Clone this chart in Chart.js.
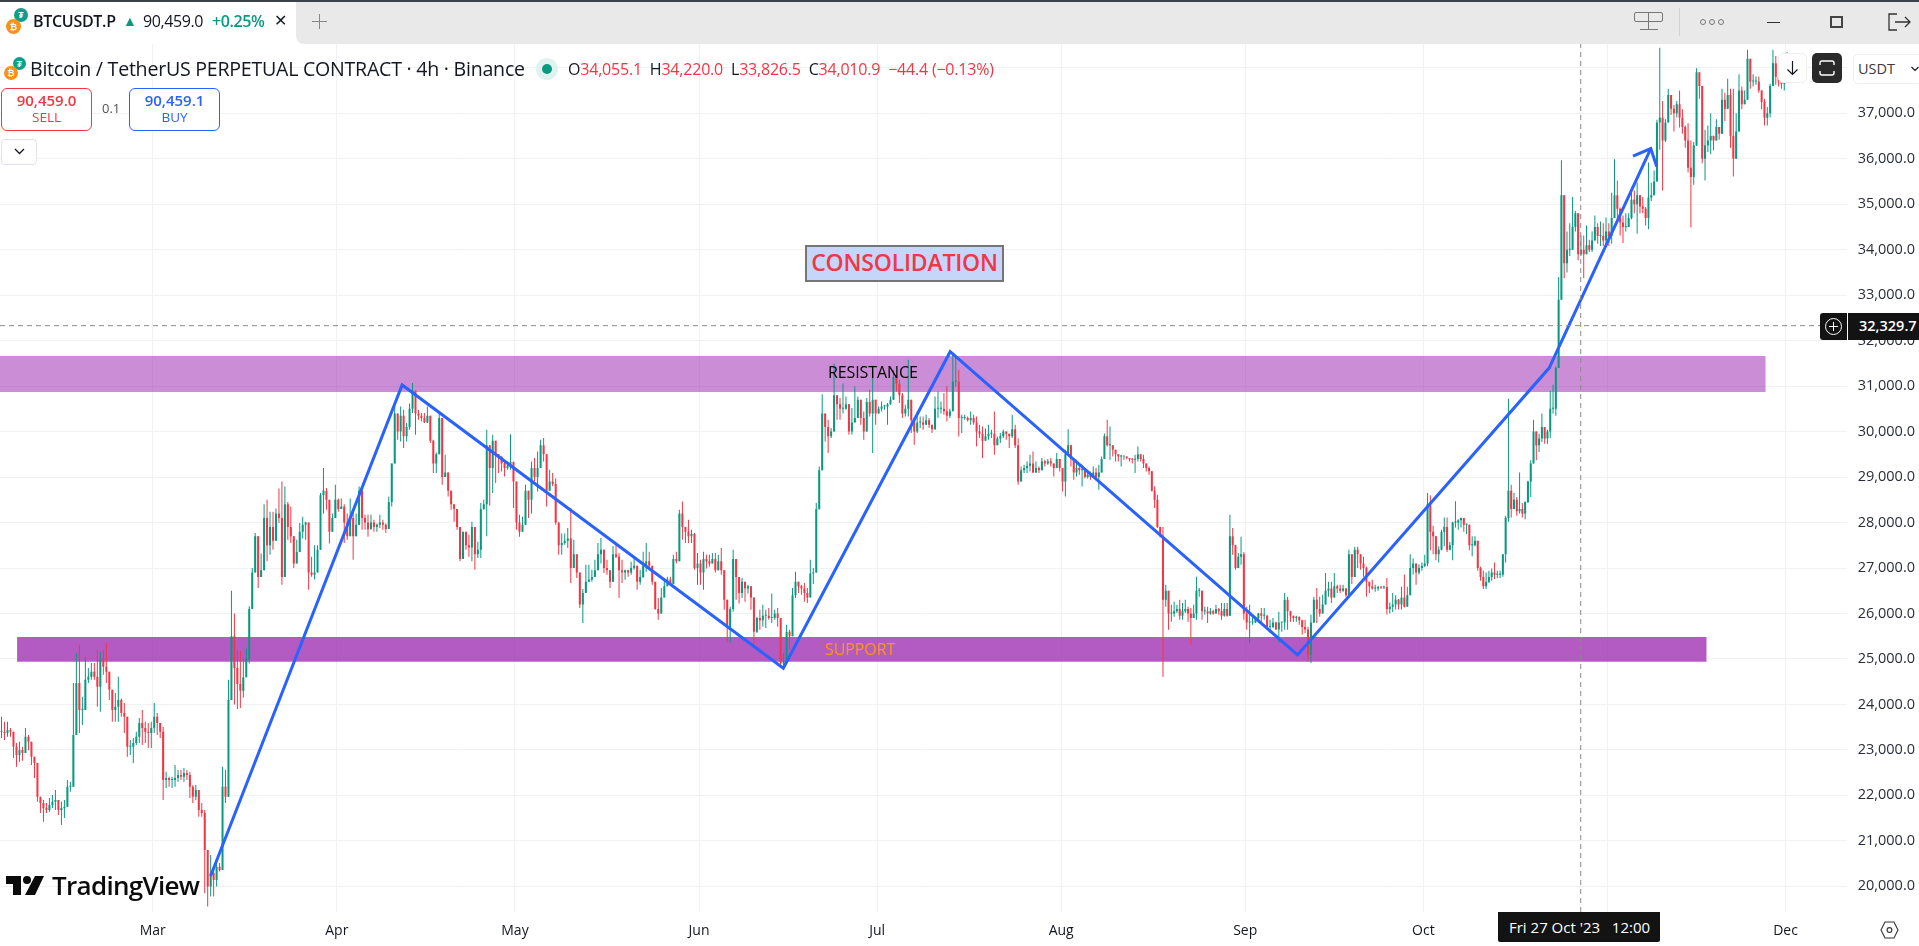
<!DOCTYPE html>
<html>
<head>
<meta charset="utf-8">
<title>BTCUSDT.P 4h</title>
<script src="https://cdn.jsdelivr.net/npm/chart.js@4"></script>
<style>
  html, body { margin: 0; padding: 0; background: #fff; overflow: hidden; }
  body { width: 1919px; height: 946px; position: relative; font-family: "Open Sans", sans-serif; color: #131722; }
  canvas { position: absolute; left: 0; top: 0; }
  .o { position: absolute; white-space: nowrap; line-height: 1; }
  .box { position: absolute; box-sizing: border-box; }
  .red { color: #f23645; }
  .green { color: #089981; }
  .coin { position: absolute; border-radius: 50%; color: #fff; font-size: 9px; font-weight: 700; text-align: center; }
</style>
</head>
<body>
<canvas id="chart" width="1919" height="946"></canvas>

<!-- tab bar -->
<div class="box" style="left:0;top:0;width:1919px;height:2px;background:#3c4048;z-index:2"></div>
<div class="box" style="left:296px;top:2px;width:1623px;height:42px;background:#e9e9e9;border-bottom-left-radius:8px"></div>
<div class="coin" style="left:14px;top:8px;width:14px;height:14px;background:#0e9e8a;line-height:14px">₮</div>
<div class="coin" style="left:6px;top:19px;width:15px;height:15px;background:#f7931a;line-height:15px">₿</div>
<div class="o" style="left:33px;top:13px;font-size:16px;font-weight:600;letter-spacing:-.3px">BTCUSDT.P</div>
<div class="o green" style="left:123px;top:14px;font-size:14px">▲</div>
<div class="o" style="left:143px;top:13px;font-size:16px;letter-spacing:-.4px">90,459.0</div>
<div class="o green" style="left:212px;top:13px;font-size:16px;font-weight:600;letter-spacing:-.4px">+0.25%</div>
<div class="o" style="left:274px;top:12px;font-size:16px">✕</div>
<div class="box" style="left:312px;top:21px;width:15px;height:1px;background:#888"></div>
<div class="box" style="left:319px;top:14px;width:1px;height:15px;background:#888"></div>

<!-- window controls -->
<div class="box" style="left:1634px;top:12px;width:29px;height:10px;border:1px solid #777;border-radius:2px"></div>
<div class="box" style="left:1648px;top:12px;width:1px;height:18px;background:#777"></div>
<div class="box" style="left:1640px;top:29px;width:18px;height:1px;background:#777"></div>
<div class="box" style="left:1679px;top:8px;width:1px;height:28px;background:#d2d2d2"></div>
<div class="box" style="left:1700px;top:19px;width:6px;height:6px;border:1px solid #777;border-radius:50%"></div>
<div class="box" style="left:1709px;top:19px;width:6px;height:6px;border:1px solid #777;border-radius:50%"></div>
<div class="box" style="left:1718px;top:19px;width:6px;height:6px;border:1px solid #777;border-radius:50%"></div>
<div class="box" style="left:1767px;top:22px;width:13px;height:1px;background:#333"></div>
<div class="box" style="left:1830px;top:16px;width:13px;height:12px;border:2px solid #444"></div>
<svg class="box" style="left:1887px;top:13px" width="24" height="18" viewBox="0 0 24 18" fill="none" stroke="#333" stroke-width="1.3">
  <path d="M10 1H2V17H10M8 9H23M18 4L23 9L18 14"/>
</svg>

<!-- symbol header -->
<div class="coin" style="left:13px;top:57px;width:13px;height:13px;background:#0e9e8a;line-height:13px">₮</div>
<div class="coin" style="left:4px;top:66px;width:14px;height:14px;background:#f7931a;line-height:14px">₿</div>
<div class="o" id="title" style="left:30px;top:59px;font-size:19.6px;letter-spacing:-.25px">Bitcoin / TetherUS PERPETUAL CONTRACT · 4h · Binance</div>
<div class="box" style="left:536px;top:58px;width:22px;height:22px;border-radius:50%;background:#e0f2ef"></div>
<div class="box" style="left:542px;top:64px;width:10px;height:10px;border-radius:50%;background:#089981"></div>
<div class="o" style="left:568px;top:61px;font-size:16px;letter-spacing:-.2px">O<span class="red">34,055.1</span>&nbsp; H<span class="red">34,220.0</span>&nbsp; L<span class="red">33,826.5</span>&nbsp; C<span class="red">34,010.9</span>&nbsp; <span class="red">−44.4 (−0.13%)</span></div>

<!-- trade buttons -->
<div class="box" style="left:1px;top:88px;width:91px;height:43px;border:1px solid #f23645;border-radius:6px;background:#fff"></div>
<div class="o red" style="left:1px;width:91px;text-align:center;top:93px;font-size:15px;font-weight:600">90,459.0</div>
<div class="o red" style="left:1px;width:91px;text-align:center;top:111px;font-size:13.5px">SELL</div>
<div class="o" style="left:102px;top:102px;font-size:13px;color:#555">0.1</div>
<div class="box" style="left:129px;top:88px;width:91px;height:43px;border:1px solid #2962ff;border-radius:6px;background:#fff"></div>
<div class="o" style="left:129px;width:91px;text-align:center;top:93px;font-size:15px;font-weight:600;color:#2962ff">90,459.1</div>
<div class="o" style="left:129px;width:91px;text-align:center;top:111px;font-size:13.5px;color:#2962ff">BUY</div>
<div class="box" style="left:1px;top:139px;width:36px;height:26px;border:1px solid #e0e3eb;border-radius:4px;background:#fff"></div>
<svg class="box" style="left:14px;top:148px" width="11" height="7" viewBox="0 0 11 7" fill="none" stroke="#131722" stroke-width="1.3"><path d="M1 1L5.5 5.5L10 1"/></svg>

<!-- drawings text -->
<div class="box" style="left:805px;top:245px;width:199px;height:37px;background:#c6d6fb;border:2px solid #757575"></div>
<div class="o" style="left:805px;width:199px;text-align:center;top:251px;font-size:23px;font-weight:600;color:#f23645;letter-spacing:-.2px">CONSOLIDATION</div>
<div class="o" style="left:828px;top:364px;font-size:16px;color:#000;letter-spacing:-.1px">RESISTANCE</div>
<div class="o" style="left:825px;top:641px;font-size:16px;color:#ff9800;letter-spacing:-.1px">SUPPORT</div>

<!-- watermark -->
<svg class="box" style="left:6px;top:875px" width="40" height="21" viewBox="0 0 40 21" fill="#0b0b0b">
  <path d="M0 1H15V20H7V9H0Z"/><circle cx="21" cy="5" r="4"/><path d="M29 1H38L29 20H19Z"/>
</svg>
<div class="o" style="left:52px;top:872px;font-size:26px;font-weight:600;color:#0b0b0b;letter-spacing:-.7px">TradingView</div>

<!-- price scale buttons -->
<div class="box" style="left:1778px;top:53px;width:29px;height:30px;background:#fff;border:1px solid #eee;border-radius:5px"></div>
<svg class="box" style="left:1786px;top:60px" width="13" height="16" viewBox="0 0 13 16" fill="none" stroke="#131722" stroke-width="1.2"><path d="M6.5 1V14M1.5 9.5L6.5 14.5L11.5 9.5"/></svg>
<div class="box" style="left:1812px;top:53px;width:30px;height:30px;background:#2a2a2a;border-radius:5px"></div>
<svg class="box" style="left:1819px;top:60px" width="16" height="16" viewBox="0 0 16 16" fill="none" stroke="#fff" stroke-width="1.4"><path d="M1 5V3Q1 1 3 1H13Q15 1 15 3V5M1 11V13Q1 15 3 15H13Q15 15 15 13V11"/></svg>
<div class="box" style="left:1853px;top:54px;width:70px;height:30px;background:#fff;border:1px solid #eee;border-radius:5px"></div>
<div class="o" style="left:1858px;top:62px;font-size:14.5px;color:#3b3b3b">USDT</div>
<svg class="box" style="left:1911px;top:66px" width="8" height="6" viewBox="0 0 8 6" fill="none" stroke="#131722" stroke-width="1.2"><path d="M.5 1L4 4.5L7.5 1"/></svg>

<!-- crosshair labels -->
<div class="box" style="left:1820px;top:313px;width:27px;height:27px;background:#131313;border-radius:3px 0 0 3px"></div>
<div class="box" style="left:1825px;top:318px;width:17px;height:17px;border:1px solid #fff;border-radius:50%"></div>
<div class="box" style="left:1829px;top:326px;width:9px;height:1px;background:#fff"></div>
<div class="box" style="left:1833px;top:322px;width:1px;height:9px;background:#fff"></div>
<div class="box" style="left:1848px;top:313px;width:71px;height:27px;background:#131313"></div>
<div class="o" style="left:1859px;top:319px;font-size:14.5px;font-weight:600;color:#fff">32,329.7</div>
<div class="box" style="left:1498px;top:912px;width:162px;height:30px;background:#131313;border-radius:0 0 2px 2px"></div>
<div class="o" style="left:1509px;top:920px;font-size:15px;color:#fff">Fri 27 Oct '23 &nbsp; 12:00</div>
<svg class="box" style="left:1880px;top:921px" width="19" height="18" viewBox="0 0 19 18" fill="none" stroke="#333" stroke-width="1.1"><path d="M5 1H14L18 9L14 17H5L1 9Z"/><circle cx="9.5" cy="9" r="2.4"/></svg>

<script>
// axis ticks (x is day of year 2023)
const monthDays = [59, 90, 120, 151, 181, 212, 243, 273, 304, 334, 365];
const monthLabels = ["Mar", "Apr", "May", "Jun", "Jul", "Aug", "Sep", "Oct", "Nov", "Dec"];
const priceTicks = [20000, 21000, 22000, 23000, 24000, 25000, 26000, 27000, 28000, 29000, 30000,
  31000, 32000, 33000, 34000, 35000, 36000, 37000, 38000];

const firstDay = 33.27;
const lastDay = 344.3;
const priceMin = 19435;
const priceMax = 38524;

const febCandles = [
  [23400,23730,23260],[23370,23620,23220],[23440,23620,23290],[23400,23480,23290],[23070,23400,22820],[22890,23150,22630],
  [23000,23180,22740],[22930,23070,22760],[23290,23480,23000],[23180,23330,22990],[22850,23040,22670],[22710,22850,22380],
  [21970,22630,21860],[21830,21970,21610],[21720,21900,21420],[21680,21830,21610],[21790,21940,21640],[21860,22010,21720],
  [21900,22120,21680],[21680,21900,21570],[21720,21860,21350],[21750,21900,21500],[22190,22340,21900],[22190,22300,22080],
  [23330,24470,22930],[24470,25130,24320],[23880,25310,23370],[23880,24170,23550],[24540,25050,23950],[24610,24800,24470],
  [24720,24910,24540],[24610,24910,24540],[24390,25200,23950],[24980,25160,23840],[24830,25200,24650],[24720,25350,24470],
  [24320,24610,24100],[23880,24250,23620],[23950,24250,23620],[24100,24610,23620],[23810,24130,23730],[23730,24030,23370],
  [23070,23370,22850],[23070,23220,22890],[23150,23260,22710],[23290,23400,23110],[23590,23700,23150],[23480,23880,23110],
  [23400,23620,23150],[23370,23590,23040],[23480,23620,23040]
];
const marCandles = [
  [23730,24030,23370],[23590,23810,23330],[23400,23550,23260],[22340,23510,21900],[22380,22520,22160],[22340,22410,22190],
  [22340,22410,22160],[22380,22670,22190],[22450,22560,22300],[22410,22560,22340],[22490,22600,22300],[22450,22560,22340],
  [22190,22520,21940],[21970,22230,21830],[22120,22230,21900],[21680,21970,21530],[21610,21830,21530],[20800,21680,19850],
  [19995,20650,19555],[20290,20690,19775],[20140,20430,19775],[20430,20545,19995],[20360,20510,20325],[22195,22630,20510],
  [21970,22560,21830],[24100,24540,21970],[25500,26500,24100],[24800,26000,24000],[24450,25200,23900],[24300,25180,23920],
  [24600,25000,24150],[25000,25230,24600],[26100,26160,24900],[26900,27000,26100],[27700,27770,27070],[26800,27500,26560],
  [26950,27320,26890],[28100,28400,27250],[27500,28500,27150],[27900,28240,27290],[27600,28240,27400],[28200,28310,27730],
  [28100,28750,27990],[26800,28900,26630],[28400,28790,27280],[27900,28450,27620],[27700,28350,27550],[27100,27620,27000],
  [27350,27620,27200],[27800,27990,27400],[27950,28130,27650],[28000,28020,27620],[26900,27320,26520],[26850,27250,26810],
  [26900,27500,26750],[27400,27500,26900],[28600,28650,27840],[28700,29200,28200],[28500,28760,28280],[27800,28390,27540],
  [28100,28200,27840],[28500,28830,28280]
];
const aprCandles = [
  [28300,28530,28240],[28350,28530,28310],[28000,28400,27550],[27700,28200,27620],[28100,28530,27910],[27700,28240,27180],
  [27950,28200,27770],[28700,28790,28090],[28100,28720,27840],[28000,28170,27840],[27850,28170,27690],[28000,28170,27910],
  [27900,28060,27800],[27950,27980,27800],[28000,28170,27880],[27950,28060,27840],[27860,27980,27770],[28450,28570,27880],
  [29300,29300,28350],[30400,30570,29600],[30000,30300,29820],[30350,30550,29780],[29900,30480,29640],[30100,30190,29780],
  [30500,30620,30040],[30900,31070,30410],[30400,30850,29930],[30350,30480,30260],[30300,30410,30220],[30200,30410,30190],
  [30350,30550,30190],[29800,30190,29750],[29300,29820,29090],[29500,29540,29090],[30300,30440,29930],[29000,30190,28830],
  [29100,29490,29010],[28700,29090,28570],[28400,28650,28280],[28300,28390,28020],[27900,28280,27840],[27200,27840,27150],
  [27800,27800,27250],[27500,27770,27400],[27450,27730,27250],[27900,28020,27150],[27300,27550,26960],[27400,27580,27220],
  [28300,28430,27220],[28400,28500,28280],[29700,30040,27700],[29200,29490,28370],[29800,29930,28650],[29500,29600,28870],
  [29450,29450,29090],[29300,29420,29120],[29200,29340,29010],[29250,29340,29160],[29330,29940,29160],[28900,29340,28320]
];
const mayCandles = [
  [28000,28720,27840],[27800,28170,27690],[27950,28130,27900],[28700,28830,28130],[28500,28680,28100],[29200,29340,28200],
  [29000,29420,28900],[29200,29560,28680],[29700,29820,29300],[29500,29860,29340],[28700,29380,28350],[28900,29160,28760],
  [28850,29090,28800],[28000,28970,27950],[27500,27990,27290],[27550,27760,27290],[27600,27760,27510],[27650,27880,27440],
  [27000,28320,26670],[27300,27620,27220],[26900,27250,26780],[26200,26740,26120],[26450,26540,25790],[26700,27070,26680],
  [26750,27070,26700],[26800,26960,26700],[26950,27180,26810],[27300,27550,26950],[27400,27660,27100],[27000,27290,26890],
  [26950,27180,26850],[26700,26850,26560],[27300,27480,26890],[27250,27510,27220],[26950,27330,26340],[26900,27180,26670],
  [26950,26960,26740],[26900,26960,26810],[27000,27140,26850],[27050,27250,26960],[26700,27030,26520],[26800,26960,26630],
  [27050,27360,26780],[27150,27550,26920],[27050,27360,27000],[26700,27030,26630],[26100,26480,26080],[26000,26340,25860],
  [26350,26560,26120],[26600,26780,26370],[26750,26810,26660],[26650,26810,26630],[27200,27290,26670],[27150,27360,27100],
  [28200,28280,27200],[27900,28460,27620],[27800,27910,27550],[27700,28060,27550],[27750,27840,27550],[27000,27770,26960],
  [27100,27330,26630]
];
const junCandles = [
  [26900,27180,26630],[27200,27360,26520],[27150,27290,26990],[27100,27290,27030],[27200,27330,27110],[26950,27330,26900],
  [27150,27290,27030],[26950,27440,26850],[26300,26850,26080],[25700,26080,25380],[26100,26150,25350],[27200,27400,26040],
  [26800,27000,26300],[26450,26520,26220],[26700,26780,26340],[26550,26670,26260],[26600,26630,26440],[26350,26520,26080],
  [25600,26260,25310],[25900,25930,25570],[25850,26080,25640],[25950,26190,25710],[25950,26080,25680],[25900,26120,25860],
  [25900,26440,25790],[26000,26080,25860],[25900,26120,25710],[24900,25700,24830],[24950,25130,24800],[25600,25750,25130],
  [25500,25640,25200],[26400,26560,25600],[26700,26920,26340],[26600,26700,26450],[26550,26630,26410],[26450,26670,26260],
  [26350,26560,26230],[26880,27180,26370],[26900,27000,26650],[28300,28430,27100],[29150,29230,28280],[30400,30820,29300],
  [30100,30370,29780],[29900,30260,29530],[30000,30080,29860],[30800,31500,30400],[30600,30770,30260],[30500,30740,30260],
  [30500,31060,30400],[30600,30770,30480],[30000,30590,29930],[30200,30520,29930],[30300,31000,30260],[30700,30770,30480],
  [30300,30440,30150],[30000,30440,29820],[30650,30740,30330],[30400,30920,30330],[30700,31360,29530],[30400,30550,30150]
];
const julCandles = [
  [30500,30550,30400],[30550,30660,30440],[30550,30590,30480],[30600,30630,30150],[30700,30770,30590],[31200,31360,30850],
  [31050,31250,30880],[30800,31140,30630],[30400,30850,30300],[30500,30590,30330],[30700,31580,30330],[30250,30370,29970],
  [30000,30300,29710],[30200,30440,29970],[30200,30330,30080],[30150,30330,30040],[30250,30370,30150],[30150,30300,30080],
  [30050,30150,29970],[30500,30770,30040],[30500,30880,30300],[30500,30660,30400],[30450,30850,30370],[30350,31000,30220],
  [30450,30500,30300],[31100,31720,30700],[31100,31650,30990],[30300,31360,29890],[30300,30370,29970],[30300,30370,30260],
  [30250,30330,30220],[30300,30440,30150],[30200,30370,30150],[30000,30330,29670],[29950,30150,29860],[29800,30110,29420],
  [29900,30070,29820],[29950,30150,29820],[29950,30040,29860],[29700,30440,29490],[29850,29890,29710],[29900,29970,29750],
  [30000,30040,29860],[29950,29970,29820],[29900,29930,29640],[30050,30370,29860],[29700,30150,29640],[28900,29850,28830],
  [29150,29230,29050],[29200,29270,29090],[29250,29340,29090],[29300,29490,29120],[29100,29560,29090],[29200,29340,29090],
  [29150,29230,29090],[29350,29420,29270],[29300,29380,29230],[29350,29400,29270],[29300,29420,29230],[29200,29300,29010],
  [29400,29530,29230],[29200,29340,29120]
];
const augCandles = [
  [28900,29000,28680],[29500,29600,28570],[29700,30050,29490],[29400,29710,29230],[29100,29300,28940],[29200,29380,29010],
  [29150,29300,29050],[29150,29270,28790],[29000,29120,28970],[29050,29120,28970],[29000,29120,28940],[29100,29230,28980],
  [29000,29200,28970],[29100,29270,28720],[29400,29450,29160],[29900,29960,29530],[29700,30260,29670],[29700,30110,29380],
  [29600,29670,29450],[29500,29530,29340],[29450,29490,29340],[29450,29490,29230],[29450,29450,29380],[29420,29440,29390],
  [29390,29420,29340],[29380,29420,29300],[29400,29490,29090],[29500,29670,29340],[29400,29450,29340],[29300,29490,29200],
  [29200,29270,29120],[29130,29230,29050],[28700,29120,28680],[28500,28800,28320],[27900,28610,27880],[27700,27910,27670],
  [26300,27900,24610],[26500,26630,26150],[26000,26300,25640],[26000,26190,25820],[26050,26260,25930],[26100,26190,26010],
  [25950,26300,25860],[26050,26230,25860],[26100,26300,26010],[26000,26150,25820],[25900,26120,25310],[26000,26190,25900],
  [26500,26810,25860],[26500,26560,26370],[26050,26230,25860],[26050,26150,25970],[26000,26150,25790],[26050,26120,25970],
  [26000,26080,25970],[26100,26190,26010],[26050,26120,25970],[25950,26230,25860],[26100,26230,25930],[25950,26230,25930],
  [27700,28170,25970],[27500,27880,27290],[27000,27510,26960],[27250,27330,27180],[27300,27690,27070],[26000,27350,25860]
];
const sepCandles = [
  [25800,26150,25640],[25800,26190,25350],[25800,25930,25750],[25900,25930,25790],[26000,26010,25790],[25950,26120,25820],
  [25950,26120,25860],[25700,25970,25640],[25700,25860,25570],[25800,25900,25680],[25650,25820,25640],[25800,26040,25350],
  [25800,25820,25600],[26300,26450,25640],[26050,26370,25640],[25950,26000,25820],[25900,25920,25820],[25930,25950,25820],
  [25850,25900,25750],[25700,25860,25530],[25650,25860,25570],[25100,25710,24950],[25800,25970,24910],[26300,26370,25790],
  [26100,26560,25790],[26000,26370,25930],[26200,26410,26010],[26500,26890,26230],[26550,26700,26370],[26350,26700,26230],
  [26600,26890,26520],[26550,26630,26450],[26500,26630,26450],[26550,26630,26480],[26400,26560,26370],[27300,27400,26450],
  [26800,27000,26650],[27400,27470,26880],[27300,27470,27000],[27100,27220,26960],[27000,27250,26810],[26700,27030,26370],
  [26600,26670,26450],[26550,26740,26520],[26550,26630,26480],[26580,26610,26500],[26570,26600,26540],[26580,26610,26540],
  [26100,26780,25980],[26150,26240,26000],[26200,26450,26030],[26300,26400,26090],[26200,26320,26090],[26350,26590,26090],
  [26150,26860,26130],[26400,26590,26270],[27000,27300,26590],[27100,27210,26860],[26900,27030,26630],[27000,27080,26860],
  [27050,27120,26940]
];
const octCandles = [
  [27100,27290,27020],[28400,28650,27040],[27800,28600,27390],[27700,27930,27300],[27300,27660,27170],[27400,27480,27120],
  [27800,27840,27390],[27900,28110,27480],[27400,28110,27350],[27500,27570,27390],[28000,28020,27170],[28000,28470,27890],
  [28050,28070,27840],[28100,28110,27890],[27950,28020,27800],[27950,27980,27750],[27500,27750,27390],[27500,27700,27260],
  [27600,27700,27480],[27000,27480,26940],[26800,27030,26720],[26600,26940,26540],[26700,26900,26540],[26800,26940,26670],
  [26900,26990,26720],[26850,27120,26760],[26850,26940,26780],[26850,26940,26780],[27300,27300,26810],[28100,28150,27120],
  [28700,30720,28020],[28300,28830,28110],[28500,28650,28290],[28250,28560,28150],[28300,29100,28200],[28200,28430,28110],
  [28450,28470,28070],[28900,28920,28430],[29300,29370,28560],[30000,30260,29320],[29700,29770,29370],[29850,29950,29550],
  [30100,30400,29770],[29850,30090,29730],[30000,30040,29730],[30500,30900,29860],[30500,31030,30400],[31400,31430,30350],
  [32900,33400,31400],[35200,35970,32900],[33700,35000,33370],[34000,34400,33500],[34000,34580,33860],[34500,35160,34400],
  [34800,34850,34400],[33900,34260,33770],[34000,34310,33860],[33900,34310,33370],[34100,34530,33950],[34000,34220,33950],
  [34200,34400,33950],[34500,34750,34300],[34300,34580,34130],[34300,34620,34080],[34200,34580,34080],[34400,34710,34130]
];
const novCandles = [
  [34300,34580,34080],[34700,35250,34130],[35200,35990,34850],[34900,35520,34670],[34600,34930,34310],[34500,34750,34150],
  [34500,34800,34400],[34700,34800,34620],[35100,35380,34670],[35000,35300,34800],[35200,35480,34350],[34950,35160,34800],
  [34900,35160,34800],[34700,34940,34530],[35150,35920,34450],[35200,35470,35070],[35500,35740,35200],[36800,36860,35500],
  [36900,38440,36200],[36400,37270,35300],[36800,36870,36370],[37400,37540,36910],[37100,37270,36960],[37000,37180,36600],
  [37200,37270,36910],[36900,37500,36690],[36700,37090,36550],[36400,36730,36240],[35800,36780,35700],[35600,36400,34490],
  [36300,36370,35430],[37900,37990,36280],[37600,37860,37320],[36000,37590,35900],[36300,36640,35520],[36400,36730,36150],
  [36500,37000,36100],[36400,36510,36190],[36700,36870,36460],[36550,36640,36420],[37300,37540,37050],[37100,37450,36830],
  [37400,37760,37270],[36500,37540,36240],[36000,37540,35610],[36600,37000,36240],[37500,37860,37270],[37200,37590,37090],
  [37300,37500,37230],[38200,38400,37590],[37700,38000,37540],[37700,37860,37590],[37700,37810,37630],[37500,37810,37450],
  [37250,37500,37090],[36900,37320,36730],[37000,37140,36730],[37600,37650,36910],[38100,38400,37600],[37800,38260,37630],
  [37700,37720,37590],[37650,37720,37540],[37700,37720,37500],[38250,38350,37680]
];

// each list with the day it starts and the day it ends
const candleMonths = [
  [febCandles, firstDay, 59], [marCandles, 59, 90], [aprCandles, 90, 120], [mayCandles, 120, 151],
  [junCandles, 151, 181], [julCandles, 181, 212], [augCandles, 212, 243], [sepCandles, 243, 273],
  [octCandles, 273, 304], [novCandles, 304, 334.5]
];

// drawings: day and price
const zigzagDays = [68.74, 101.0, 165.2, 193.3, 251.8, 294.2, 311.3];
const zigzagPrices = [20227, 31025, 24794, 31757, 25087, 31403, 36224];
const arrowDays = [308.3, 311.3, 312.3];
const arrowPrices = [36059, 36224, 35830];
const resistanceDays = [firstDay, 330.66];
const resistanceBand = [30872, 31663];
const supportDays = [36.14, 320.72];
const supportBand = [24940, 25483];
const crossDay = 299.5;
const crossPrice = 32329.7;

const green = "#089981";
const red = "#f23645";
const blue = "#2962ff";

const wicks = [];
const bodies = [];
const colors = [];
let open = febCandles[0][0];
candleMonths.forEach(([list, from, to]) => {
  const step = (to - from) / list.length;
  list.forEach(([close, high, low], i) => {
    const x = from + (i + 0.5) * step;
    wicks.push({ x, y: [Math.min(low, open, close), Math.max(high, open, close)] });
    bodies.push({ x, y: [Math.min(open, close), Math.max(open, close)] });
    colors.push(close >= open ? green : red);
    open = close;
  });
});

function points(days, prices) {
  return days.map((d, i) => ({ x: d, y: prices[i] }));
}

function zone(days, band, color) {
  return {
    type: "line",
    data: days.map((d) => ({ x: d, y: band[1] })),
    borderWidth: 0,
    pointRadius: 0,
    backgroundColor: color,
    fill: { value: band[0] },
    order: 10,
  };
}

function lineSet(data, color, width, dash) {
  return {
    type: "line",
    data,
    borderColor: color,
    borderWidth: width,
    borderDash: dash || [],
    pointRadius: 0,
    tension: 0,
    fill: false,
    order: 1,
  };
}

new Chart(document.getElementById("chart"), {
  type: "bar",
  data: {
    datasets: [
      zone(resistanceDays, resistanceBand, "rgba(156,39,176,0.53)"),
      zone(supportDays, supportBand, "rgba(156,39,176,0.76)"),
      { data: wicks, backgroundColor: colors, barThickness: 1, grouped: false, order: 5, inflateAmount: 0 },
      { data: bodies, backgroundColor: colors, barThickness: 2, grouped: false, order: 4, inflateAmount: 0, minBarLength: 1 },
      lineSet(points([firstDay, lastDay], [crossPrice, crossPrice]), "#8a8a8a", 1, [5, 4]),
      lineSet(points([crossDay, crossDay], [priceMin, priceMax]), "#8a8a8a", 1, [5, 4]),
      lineSet(points(zigzagDays, zigzagPrices), blue, 3),
      lineSet(points(arrowDays, arrowPrices), blue, 3),
    ],
  },
  options: {
    responsive: false,
    animation: false,
    events: [],
    layout: { padding: { top: 44, left: 0, right: 0, bottom: 0 } },
    plugins: { legend: { display: false }, tooltip: { enabled: false } },
    scales: {
      x: {
        type: "linear",
        min: firstDay,
        max: lastDay,
        offset: false,
        afterFit: (axis) => { axis.height = 34; },
        afterBuildTicks: (axis) => { axis.ticks = monthDays.slice(0, 10).map((value) => ({ value })); },
        grid: { offset: false, color: "#f0f1f3", lineWidth: 1, drawTicks: false },
        border: { display: false },
        ticks: {
          autoSkip: false,
          maxRotation: 0,
          padding: 11,
          color: "#131722",
          font: { family: "Open Sans", size: 14 },
          callback: (v) => monthLabels[monthDays.indexOf(v)],
        },
      },
      y: {
        position: "right",
        min: priceMin,
        max: priceMax,
        afterFit: (axis) => { axis.width = 72.3; },
        afterBuildTicks: (axis) => { axis.ticks = priceTicks.map((value) => ({ value })); },
        grid: { color: "#f0f1f3", lineWidth: 1, drawTicks: false },
        border: { display: false },
        ticks: {
          autoSkip: false,
          padding: 11,
          color: "#2a2e39",
          font: { family: "Open Sans", size: 14.5 },
          callback: (v) => v.toLocaleString("en-US", { minimumFractionDigits: 1 }),
        },
      },
    },
  },
});
</script>
</body>
</html>
